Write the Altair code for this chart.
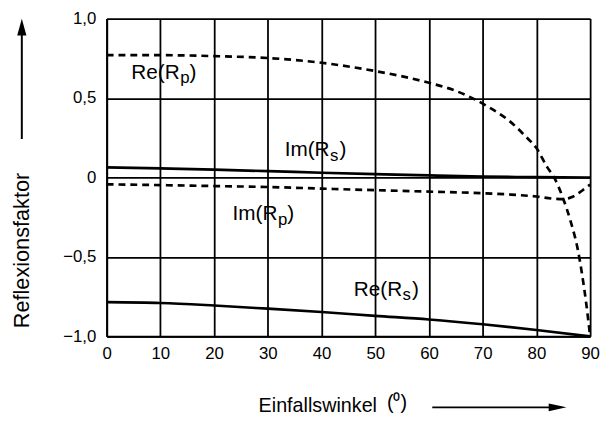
import altair as alt
import pandas as pd

# ---- data ----
angle_re_p = [0, 10, 20, 30, 40, 50, 60, 65, 70, 72, 75, 78, 80, 82, 83.3, 85, 86.4, 87.8, 88.5, 89.3, 90]
re_p = [0.770, 0.770, 0.764, 0.752, 0.722, 0.670, 0.596, 0.545, 0.465, 0.425, 0.355, 0.258, 0.185, 0.065, 0.0,
        -0.135, -0.28, -0.47, -0.61, -0.80, -1.0]

angle_im_p = [0, 10, 20, 30, 40, 50, 60, 70, 75, 80, 83, 85, 86.5, 88, 89, 90]
im_p = [-0.043, -0.048, -0.054, -0.060, -0.070, -0.080, -0.089, -0.099, -0.107, -0.120, -0.133, -0.136,
        -0.125, -0.095, -0.070, -0.045]

angle_im_s = [0, 10, 20, 30, 40, 50, 60, 70, 80, 90]
im_s = [0.064, 0.057, 0.049, 0.040, 0.030, 0.021, 0.013, 0.006, 0.002, 0.0]

angle_re_s = [0, 10, 20, 30, 40, 50, 60, 70, 80, 90]
re_s = [-0.785, -0.79, -0.806, -0.826, -0.847, -0.871, -0.894, -0.924, -0.96, -1.0]

x_ticks = [0, 10, 20, 30, 40, 50, 60, 70, 80, 90]
y_ticks = [-1.0, -0.5, 0.0, 0.5, 1.0]

label_main = ["Re(R", "Im(R", "Im(R", "Re(R"]
label_sub = ["p", "s", "p", "s"]
label_x = [13.6, 41.5, 31.8, 55.0]
label_y = [0.623, 0.137, -0.267, -0.743]

x_title = "Einfallswinkel"
x_title_sup = "(⁰)"
y_title = "Reflexionsfaktor"

FONT = "Liberation Sans"

def series(name, style, xs, ys):
    return pd.DataFrame({"series": name, "style": style, "angle": xs, "value": ys})

df = pd.concat([
    series("Re(Rp)", "dashed", angle_re_p, re_p),
    series("Im(Rp)", "dashed", angle_im_p, im_p),
    series("Im(Rs)", "solid", angle_im_s, im_s),
    series("Re(Rs)", "solid", angle_re_s, re_s),
], ignore_index=True)

labels = pd.DataFrame({"main": label_main, "sub": label_sub, "x": label_x, "y": label_y})

xscale = alt.Scale(domain=[0, 90], nice=False, zero=False)
yscale = alt.Scale(domain=[-1, 1], nice=False, zero=False)

xaxis = alt.Axis(values=x_ticks, grid=True, gridColor="black", gridWidth=1.8, gridOpacity=1,
                 domainColor="black", domainWidth=2, ticks=False, labelFontSize=17,
                 labelColor="black", labelFont=FONT, labelPadding=9, title=None,
                 labelFlush=False, labelOverlap=False)
yaxis = alt.Axis(values=y_ticks, grid=True, gridColor="black", gridWidth=1.8, gridOpacity=1,
                 domainColor="black", domainWidth=2, ticks=False, labelFontSize=17,
                 labelColor="black", labelFont=FONT, labelPadding=11, title=None,
                 labelFlush=False, labelOverlap=False,
                 labelExpr="datum.value == 0 ? '0' : replace(format(datum.value, '.1f'), '.', ',')")

base = alt.Chart(df)

solid = base.transform_filter(alt.datum.style == "solid").mark_line(
    color="black", strokeWidth=2.7, interpolate="monotone"
).encode(
    x=alt.X("angle:Q", scale=xscale, axis=xaxis),
    y=alt.Y("value:Q", scale=yscale, axis=yaxis),
    detail="series:N",
)

dashed = base.transform_filter(alt.datum.style == "dashed").mark_line(
    color="black", strokeWidth=2.7, strokeDash=[7, 5], interpolate="monotone"
).encode(
    x=alt.X("angle:Q", scale=xscale),
    y=alt.Y("value:Q", scale=yscale),
    detail="series:N",
)

lab = alt.Chart(labels)
lab_main = lab.mark_text(align="right", baseline="alphabetic", fontSize=21, font=FONT, color="black").encode(
    x=alt.X("x:Q", scale=xscale), y=alt.Y("y:Q", scale=yscale), text="main:N")
lab_sub = lab.mark_text(align="left", baseline="alphabetic", fontSize=17, font=FONT, color="black",
                        dx=0.5, dy=5).encode(
    x=alt.X("x:Q", scale=xscale), y=alt.Y("y:Q", scale=yscale), text="sub:N")
lab_paren = lab.mark_text(align="left", baseline="alphabetic", fontSize=21, font=FONT, color="black",
                          dx=10).encode(
    x=alt.X("x:Q", scale=xscale), y=alt.Y("y:Q", scale=yscale), text=alt.value(")"))

one = alt.Chart(alt.Data(values=[{"a": 1}]))

ytitle = one.mark_text(angle=270, align="center", baseline="middle", fontSize=22, font=FONT,
                       color="black").encode(x=alt.value(-86), y=alt.value(235), text=alt.value(y_title))
yarrow = one.mark_rule(color="black", strokeWidth=2).encode(
    x=alt.value(-86), y=alt.value(122), y2=alt.value(10))
yhead = one.mark_point(shape="M0,-1L0.55,1L-0.55,1Z", filled=True, size=289, color="black", opacity=1,
                       strokeWidth=0).encode(x=alt.value(-86), y=alt.value(8.5))

xtitle = one.mark_text(align="left", baseline="alphabetic", fontSize=20, font=FONT,
                       color="black").encode(x=alt.value(154), y=alt.value(399), text=alt.value(x_title))
xtitle_sup = one.mark_text(align="left", baseline="alphabetic", fontSize=20, font=FONT,
                           color="black").encode(x=alt.value(284), y=alt.value(396), text=alt.value(x_title_sup))
xarrow = one.mark_rule(color="black", strokeWidth=2).encode(
    x=alt.value(330), x2=alt.value(455), y=alt.value(394))
xhead = one.mark_point(shape="M1,0L-1,0.45L-1,-0.45Z", filled=True, size=324, color="black", opacity=1,
                       strokeWidth=0).encode(x=alt.value(457), y=alt.value(394))

chart = alt.layer(
    solid, dashed, lab_main, lab_sub, lab_paren,
    ytitle, yarrow, yhead, xtitle, xtitle_sup, xarrow, xhead
).properties(
    width=490, height=322,
    autosize=alt.AutoSizeParams(type="none"),
    padding={"left": 100, "top": 8, "right": 10, "bottom": 80},
    background="white",
).configure_view(stroke=None)

chart.save("out.html", embed_options={"renderer": "svg", "actions": False})
